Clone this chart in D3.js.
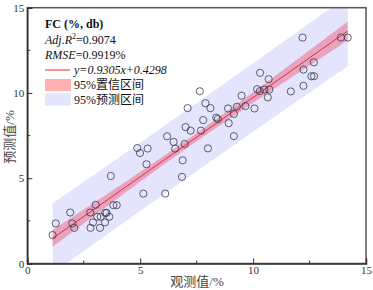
<!DOCTYPE html>
<html><head><meta charset="utf-8">
<script src="https://cdn.jsdelivr.net/npm/d3@7"></script>
<style>
html,body{margin:0;padding:0;background:#fff;}
svg text{font-family:"Liberation Serif","Noto Sans CJK SC",serif;}
</style></head>
<body><svg id="c" width="373" height="290"></svg>
<script>
// Observed values (%)
const observed = [1.12,1.26,1.90,1.99,2.08,2.79,2.80,2.91,3.03,3.10,3.25,3.22,3.45,3.51,3.44,3.63,3.70,3.81,3.96,
4.87,4.99,5.14,5.28,5.33,6.11,6.19,6.48,6.55,6.85,6.88,6.97,7.01,7.10,7.23,7.64,7.69,7.79,7.89,8.00,8.11,
8.37,8.44,8.89,8.92,9.15,9.15,9.28,9.49,9.66,10.06,10.18,10.30,10.31,10.50,10.65,10.69,10.72,11.67,
12.19,12.23,12.23,12.58,12.69,12.70,13.89,14.19];
// Predicted values (%)
const predicted = [1.67,2.35,2.99,2.35,2.09,2.99,2.09,2.41,3.44,2.74,2.74,2.09,2.97,2.97,2.41,2.74,5.13,3.42,3.42,
6.77,6.48,4.10,5.82,6.74,4.10,7.46,7.13,6.74,5.08,6.05,7.01,8.00,9.11,7.79,10.10,7.79,8.41,9.40,6.75,9.11,
8.55,8.47,9.09,8.23,8.77,7.47,9.19,9.84,9.23,9.09,10.22,10.11,11.18,10.20,9.74,10.81,10.20,10.09,
13.25,11.37,10.42,10.98,11.80,10.98,13.25,13.25];
const slope = 0.9305, intercept = 0.4298, rmse = 0.9919, tval = 2.0;
const xTicks = [0,5,10,15], xMinor = [2.5,7.5,12.5];
const yTicks = [0,5,10,15], yMinor = [2.5,7.5,12.5];

const svg = d3.select("#c");
const L = 27.3, R = 366, T = 7.7, B = 263.5;
const x = d3.scaleLinear().domain([0,15]).range([L,R]);
const y = d3.scaleLinear().domain([0,15]).range([B,T]);

svg.append("defs").append("clipPath").attr("id","pc")
  .append("rect").attr("x",L).attr("y",T).attr("width",R-L).attr("height",B-T);

// regression stats for bands
const n = observed.length;
const xbar = d3.mean(observed);
const sxx = d3.sum(observed, v => (v-xbar)*(v-xbar));
const x0 = d3.min(observed), x1 = d3.max(observed);
const grid = d3.range(0,101).map(i => x0 + (x1-x0)*i/100);
const fit = v => slope*v + intercept;
const conf = v => tval*rmse*Math.sqrt(1/n + (v-xbar)*(v-xbar)/sxx);
const pred = v => tval*rmse*Math.sqrt(1 + 1/n + (v-xbar)*(v-xbar)/sxx);

const g = svg.append("g").attr("clip-path","url(#pc)");
const area = f => d3.area().x(v=>x(v)).y0(v=>y(fit(v)-f(v))).y1(v=>y(fit(v)+f(v)));
g.append("path").datum(grid).attr("d",area(pred)).attr("fill","rgb(228,228,252)");
g.append("path").datum(grid).attr("d",area(conf)).attr("fill","rgba(235,60,90,0.38)");
g.append("path").datum([x0,x1]).attr("d",d3.line().x(v=>x(v)).y(v=>y(fit(v))))
  .attr("stroke","#e8283c").attr("stroke-width",1).attr("fill","none");

g.selectAll("circle.pt").data(observed).join("circle").attr("class","pt")
  .attr("cx",(d)=>x(d)).attr("cy",(d,i)=>y(predicted[i])).attr("r",3.6)
  .attr("fill","none").attr("stroke","#3a3a4a").attr("stroke-width",0.8);

// frame
svg.append("rect").attr("x",L).attr("y",T).attr("width",R-L).attr("height",B-T)
  .attr("fill","none").attr("stroke","#555").attr("stroke-width",1.5);

// axes
const ax = svg.append("g").attr("transform",`translate(0,${B})`)
  .call(d3.axisBottom(x).tickValues(xTicks).tickSize(-5).tickPadding(3).tickFormat(d3.format("d")));
const ay = svg.append("g").attr("transform",`translate(${L},0)`)
  .call(d3.axisLeft(y).tickValues(yTicks).tickSize(-5).tickPadding(3).tickFormat(d3.format("d")));
[ax,ay].forEach(a=>{
  a.select(".domain").attr("stroke","#333").attr("stroke-width",1.5);
  a.selectAll(".tick line").attr("stroke","#333");
  a.selectAll("text").attr("font-size",11).attr("fill","#333").style("font-family","Liberation Serif");
});
svg.append("g").selectAll("line").data(xMinor).join("line")
  .attr("x1",d=>x(d)).attr("x2",d=>x(d)).attr("y1",B).attr("y2",B-3).attr("stroke","#333");
svg.append("g").selectAll("line").data(yMinor).join("line")
  .attr("y1",d=>y(d)).attr("y2",d=>y(d)).attr("x1",L).attr("x2",L+3).attr("stroke","#333");

// axis titles
svg.append("text").attr("x",197).attr("y",286).attr("text-anchor","middle")
  .attr("font-size",13).attr("fill","#444").text("观测值/%");
svg.append("text").attr("transform","translate(14,137) rotate(-90)").attr("text-anchor","middle")
  .attr("font-size",13).attr("fill","#444").text("预测值/%");

// legend
const lg = svg.append("g");
lg.append("text").attr("x",45).attr("y",28).attr("font-size",12).attr("font-weight","bold").attr("fill","#111").text("FC (%, db)");
const t2 = lg.append("text").attr("x",45).attr("y",44).attr("font-size",12).attr("fill","#111");
t2.append("tspan").attr("font-style","italic").text("Adj.R");
t2.append("tspan").attr("font-size",8).attr("dy",-5).text("2");
t2.append("tspan").attr("dy",5).text("=0.9074");
const t3 = lg.append("text").attr("x",45).attr("y",59).attr("font-size",12).attr("fill","#111");
t3.append("tspan").attr("font-style","italic").text("RMSE");
t3.append("tspan").text("=0.9919%");
lg.append("line").attr("x1",45).attr("x2",70).attr("y1",70).attr("y2",70).attr("stroke","#e8283c").attr("stroke-width",1);
lg.append("text").attr("x",74).attr("y",74).attr("font-size",12).attr("font-style","italic").attr("fill","#111")
  .text("y=0.9305x+0.4298");
lg.append("rect").attr("x",45).attr("y",79).attr("width",26).attr("height",12).attr("fill","rgb(255,176,176)");
lg.append("text").attr("x",74).attr("y",89).attr("font-size",12).attr("fill","#111").text("95%置信区间");
lg.append("rect").attr("x",45).attr("y",93.5).attr("width",26).attr("height",12).attr("fill","rgb(228,228,252)");
lg.append("text").attr("x",74).attr("y",104).attr("font-size",12).attr("fill","#111").text("95%预测区间");
</script></body></html>
